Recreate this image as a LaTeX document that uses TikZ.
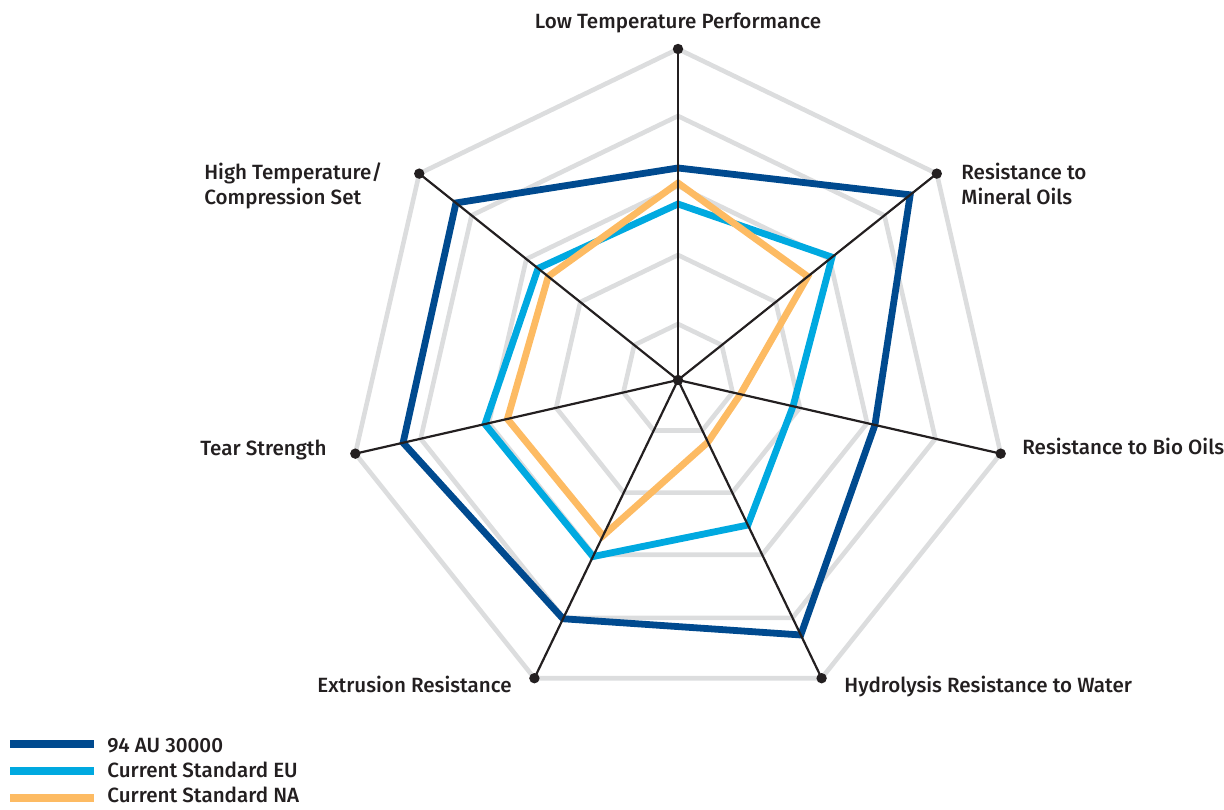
\documentclass[tikz,border=0pt]{standalone}
\usepackage{fontspec}
\setmainfont{Fira Sans}[UprightFont={* Medium}]
\usepackage{tikz}
\usetikzlibrary{positioning,calc}
\definecolor{auBlue}{RGB}{0,74,143}
\definecolor{euBlue}{RGB}{0,169,224}
\definecolor{naOrange}{RGB}{253,187,99}
\definecolor{ringGray}{RGB}{220,221,222}
\definecolor{inkBlack}{RGB}{35,31,32}
\tikzset{
  chart/.style={x=0.5pt,y=0.5pt,font=\fontsize{10.3}{12.5}\selectfont,text=inkBlack},
  ring/.style={draw=ringGray,line width=2.3pt},
  axis/.style={draw=inkBlack,line width=1.1pt},
  axis dot/.style={fill=inkBlack},
  series/.style={line width=3.4pt,line join=miter},
  au/.style={series,draw=auBlue},
  eu/.style={series,draw=euBlue},
  na/.style={series,draw=naOrange},
  legend line/.style={line width=3.75pt},
  label/.style={inner sep=0pt,align=left},
}
\begin{document}
\begin{tikzpicture}[chart]
  \useasboundingbox (0,0) rectangle (1224,809);
  \coordinate (c) at (678,429);
  % axis ends
  \foreach \k in {0,...,6}
    \coordinate (a\k) at ($(c)+(90-\k*360/7:331)$);
  \begin{scope}[shift={(c)}]
    % rings
    \foreach \r in {56,125,194,264,331}
      \draw[ring] (90:\r) \foreach \k in {1,...,6} { -- (90-\k*360/7:\r) } -- cycle;
    % data
    \draw[au] (90:212) \foreach \r [count=\k] in {297,202,283,265,282,284} { -- (90-\k*360/7:\r) } -- cycle;
    \draw[eu] (90:176) \foreach \r [count=\k] in {197,118,161,196,198,179} { -- (90-\k*360/7:\r) } -- cycle;
    \draw[na] (90:197) \foreach \r [count=\k] in {166,64,69,173,175,166} { -- (90-\k*360/7:\r) } -- cycle;
  \end{scope}
  \foreach \k in {0,...,6} {
    \draw[axis] (c) -- (a\k);
    \fill[axis dot] (a\k) circle (2.6pt);
  }
  \fill[axis dot] (c) circle (2.6pt);
  % labels
  \node[label,anchor=base] (lowtemp) at (678,780) {Low Temperature Performance};
  \node[label,anchor=base west] (mineral) at (961,604) {Resistance to\\Mineral Oils};
  \node[label,anchor=base west] (bio) at (1022,355) {Resistance to Bio Oils};
  \node[label,anchor=base west] (hydro) at (844,117) {Hydrolysis Resistance to Water};
  \node[label,anchor=base east] (extr) at (512,117) {Extrusion Resistance};
  \node[label,anchor=base east] (tear) at (327,354) {Tear Strength};
  \node[label,anchor=base west] (hightemp) at (204,604) {High Temperature/\\Compression Set};
  % legend
  \coordinate (k1) at (10,65);  \coordinate (k1e) at (94,65);
  \coordinate (k2) at (10,38);  \coordinate (k2e) at (94,38);
  \coordinate (k3) at (10,11);  \coordinate (k3e) at (94,11);
  \draw[legend line,auBlue] (k1) -- (k1e);
  \draw[legend line,euBlue] (k2) -- (k2e);
  \draw[legend line,naOrange] (k3) -- (k3e);
  \node[label,anchor=base west] (lau) at (107,57) {94 AU 30000};
  \node[label,anchor=base west] (leu) at (107,32) {Current Standard EU};
  \node[label,anchor=base west] (lna) at (107,7) {Current Standard NA};
\end{tikzpicture}
\end{document}
